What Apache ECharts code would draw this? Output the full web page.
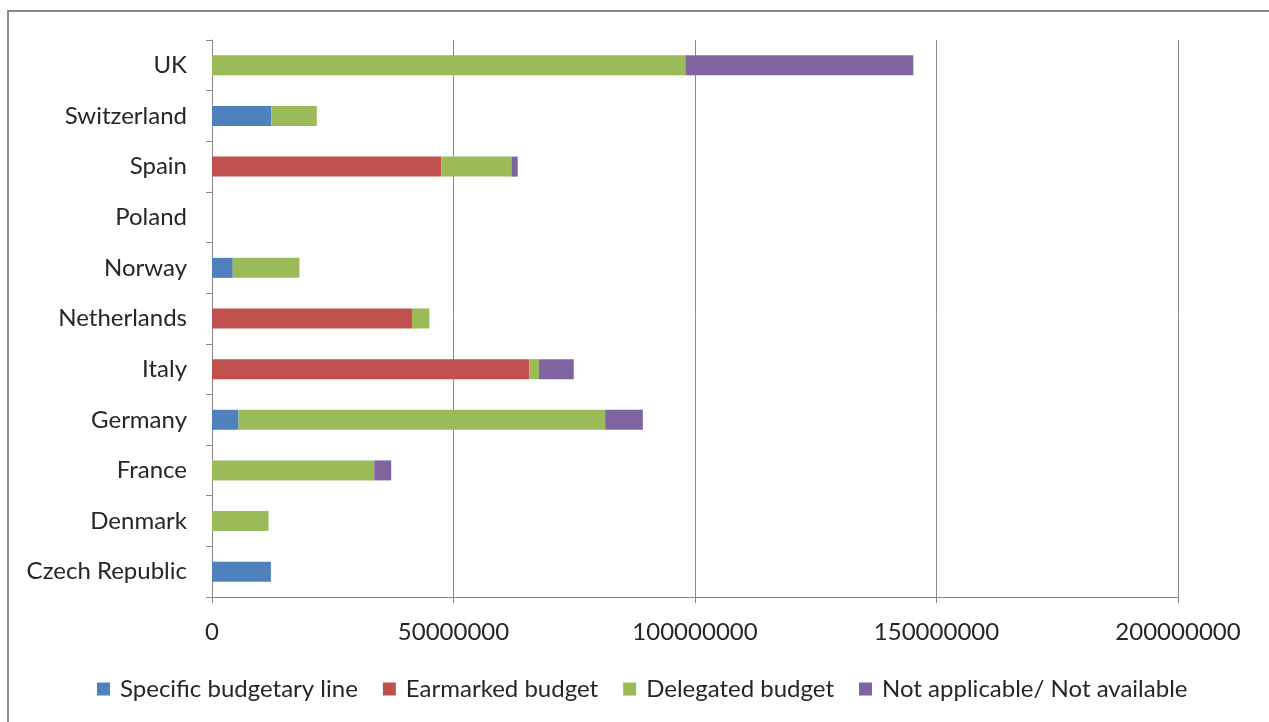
<!DOCTYPE html>
<html>
<head>
<meta charset="utf-8">
<script src="https://cdn.jsdelivr.net/npm/echarts@6/dist/echarts.min.js"></script>
<style>
  html, body { margin: 0; padding: 0; background: #fff; }
  #chart { width: 1269px; height: 722px; }
</style>
</head>
<body>
<div id="chart"></div>
<script>
// Countries, listed bottom to top on the category axis
const countries = ['Czech Republic', 'Denmark', 'France', 'Germany', 'Italy',
  'Netherlands', 'Norway', 'Poland', 'Spain', 'Switzerland', 'UK'];

// Budget amounts per funding type (same order as countries)
const specificBudgetaryLine = [12200000, null, null, 5500000, null, null, 4300000, null, null, 12300000, null];
const earmarkedBudget       = [null, null, null, null, 65700000, 41400000, null, null, 47500000, null, null];
const delegatedBudget       = [null, 11700000, 33600000, 75900000, 2000000, 3600000, 13800000, null, 14500000, 9400000, 98000000];
const notApplicable         = [null, null, 3500000, 7800000, 7200000, null, null, null, 1300000, null, 47200000];

const seriesNames = ['Specific budgetary line', 'Earmarked budget', 'Delegated budget', 'Not applicable/ Not available'];
const seriesColors = ['#4F81BD', '#C0504D', '#9BBB59', '#8064A2'];
const seriesData = [specificBudgetaryLine, earmarkedBudget, delegatedBudget, notApplicable];

const FONT = 'Lato, "Open Sans", sans-serif';
const TEXT = '#262626';
const GRID = '#8a8a8a';

const chart = echarts.init(document.getElementById('chart'));
chart.setOption({
  animation: false,
  backgroundColor: '#fff',
  graphic: [{
    type: 'rect',
    shape: { x: 8, y: 11, width: 1270, height: 720 },
    style: { fill: 'none', stroke: '#8c8c8c', lineWidth: 2 },
    silent: true
  }],
  grid: { left: 212, right: 91, top: 40, bottom: 125, containLabel: false },
  legend: {
    data: seriesNames,
    left: 92,
    top: 672,
    icon: 'rect',
    itemWidth: 13,
    itemHeight: 13,
    itemGap: 25,
    textStyle: { fontFamily: FONT, fontSize: 24, color: TEXT, padding: [0, 0, 0, 5] }
  },
  xAxis: {
    type: 'value',
    min: 0,
    max: 200000000,
    interval: 50000000,
    axisLine: { show: true, lineStyle: { color: GRID, width: 1 } },
    axisTick: { show: true, length: 6, lineStyle: { color: GRID } },
    splitLine: { show: true, lineStyle: { color: GRID, width: 1 } },
    axisLabel: { fontFamily: FONT, fontSize: 24, color: TEXT, margin: 23, formatter: v => String(v) }
  },
  yAxis: {
    type: 'category',
    data: countries,
    axisLine: { show: true, lineStyle: { color: GRID, width: 1 } },
    axisTick: { show: true, length: 6, lineStyle: { color: GRID } },
    axisLabel: { fontFamily: FONT, fontSize: 24, color: TEXT, margin: 25 }
  },
  series: seriesNames.map((name, i) => ({
    name,
    type: 'bar',
    stack: 'total',
    barWidth: 20,
    itemStyle: { color: seriesColors[i] },
    data: seriesData[i]
  }))
});
</script>
</body>
</html>
